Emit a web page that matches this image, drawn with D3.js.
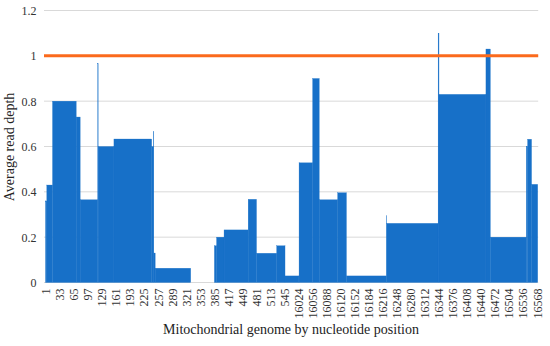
<!DOCTYPE html>
<html>
<head>
<meta charset="utf-8">
<script src="https://cdn.jsdelivr.net/npm/d3@7"></script>
<style>
  html, body { margin: 0; padding: 0; background: #fff; }
  svg { display: block; }
  svg text { font-family: "Liberation Serif", "Times New Roman", serif; }
</style>
</head>
<body>
<svg></svg>
<script>
const barColor = "#1770c8"
const refColor = "#fb6a1c"
const serif = "Liberation Serif"

// 1. DATA *******************************
// positions covered: HVR start and end of the genome
const regions = [[1, 576], [16024, 16569]]
// runs of equal average depth (start, end, value)
const runStart = [1, 4, 17, 71, 80, 120, 121, 157, 243, 247, 248, 251, 332, 386, 391, 408, 463, 482, 528, 547,
  16024, 16026, 16057, 16072, 16114, 16134, 16225, 16226, 16343, 16345, 16452, 16462, 16544, 16547, 16556]
const runEnd = [3, 16, 70, 79, 119, 120, 156, 242, 246, 247, 250, 331, 385, 390, 407, 462, 481, 527, 546, 576,
  16025, 16056, 16071, 16113, 16133, 16224, 16225, 16342, 16344, 16451, 16461, 16543, 16546, 16555, 16569]
const runDepth = [0.36, 0.43, 0.80, 0.73, 0.365, 0.965, 0.60, 0.633, 0.60, 0.665, 0.13, 0.063, 0, 0.162, 0.20, 0.232, 0.367, 0.129, 0.162, 0.029,
  0.029, 0.528, 0.90, 0.365, 0.396, 0.029, 0.295, 0.261, 1.10, 0.83, 1.03, 0.20, 0.60, 0.632, 0.433]
const yTicks = [0, 0.2, 0.4, 0.6, 0.8, 1, 1.2]
const refLevel = 1
const labelEvery = 32

const positions = regions.flatMap(([a, b]) => d3.range(a, b + 1))
const runs = runStart.map((s, i) => ({ start: s, end: runEnd[i], depth: runDepth[i] }))

// 2. CANVAS *******************************
const W = 550, H = 346
const margin = { top: 10.5, right: 12.3, bottom: 63.5, left: 45.5 }
const width = W - margin.left - margin.right
const height = H - margin.top - margin.bottom

const svg = d3.select("svg").attr("width", W).attr("height", H)
const chart = svg.append("g")
  .attr("transform", `translate(${margin.left}, ${margin.top})`)

// 3. SCALES *******************************
const xScale = d3.scaleBand().domain(positions).range([0, width]).padding(0)
const yScale = d3.scaleLinear().domain([0, 1.2]).range([height, 0])

// gridlines
chart.append("g")
  .selectAll("line")
  .data(yTicks)
  .join("line")
  .attr("x1", -1.5).attr("x2", width + 0.5)
  .attr("y1", d => yScale(d)).attr("y2", d => yScale(d))
  .attr("stroke", "#d9d9d9")
  .attr("stroke-width", 1)

// y axis
const yAxis = chart.append("g")
  .call(d3.axisLeft(yScale).tickValues(yTicks).tickSize(0).tickPadding(9).tickFormat(d => d))
  .attr("font-family", serif)
yAxis.select(".domain").remove()
yAxis.selectAll("text")
  .attr("font-size", 12)
  .attr("fill", "#333")

// x axis
const xAxis = chart.append("g")
  .attr("transform", `translate(0, ${height})`)
  .call(d3.axisBottom(xScale)
    .tickValues(positions.filter((d, i) => i % labelEvery === 0))
    .tickSize(0))
  .attr("font-family", serif)
xAxis.select(".domain").remove()
xAxis.selectAll("text")
  .attr("font-size", 12)
  .attr("fill", "#333")
  .attr("text-anchor", "end")
  .attr("transform", "rotate(-90)")
  .attr("dy", "0.35em")
  .attr("x", -6)
  .attr("y", 0)

// 4. BARS *******************************
const bw = xScale.bandwidth()
chart.append("g")
  .selectAll("rect")
  .data(runs.filter(d => d.depth > 0))
  .join("rect")
  .attr("x", d => xScale(d.start))
  .attr("width", d => xScale(d.end) + bw - xScale(d.start))
  .attr("y", d => yScale(d.depth))
  .attr("height", d => yScale(0) - yScale(d.depth))
  .attr("fill", barColor)
  .attr("stroke", barColor)
  .attr("stroke-width", 0.3)

// reference line
chart.append("line")
  .attr("x1", -1.5).attr("x2", width + 0.5)
  .attr("y1", yScale(refLevel)).attr("y2", yScale(refLevel))
  .attr("stroke", refColor)
  .attr("stroke-width", 3)

// 5. TITLES *******************************
svg.append("text")
  .attr("x", 291).attr("y", 334)
  .attr("text-anchor", "middle")
  .attr("font-family", serif)
  .attr("font-size", 14)
  .attr("fill", "#222")
  .text("Mitochondrial genome by nucleotide position")

svg.append("text")
  .attr("transform", "translate(14, 147) rotate(-90)")
  .attr("text-anchor", "middle")
  .attr("font-family", serif)
  .attr("font-size", 14)
  .attr("fill", "#222")
  .text("Average read depth")
</script>
</body>
</html>
